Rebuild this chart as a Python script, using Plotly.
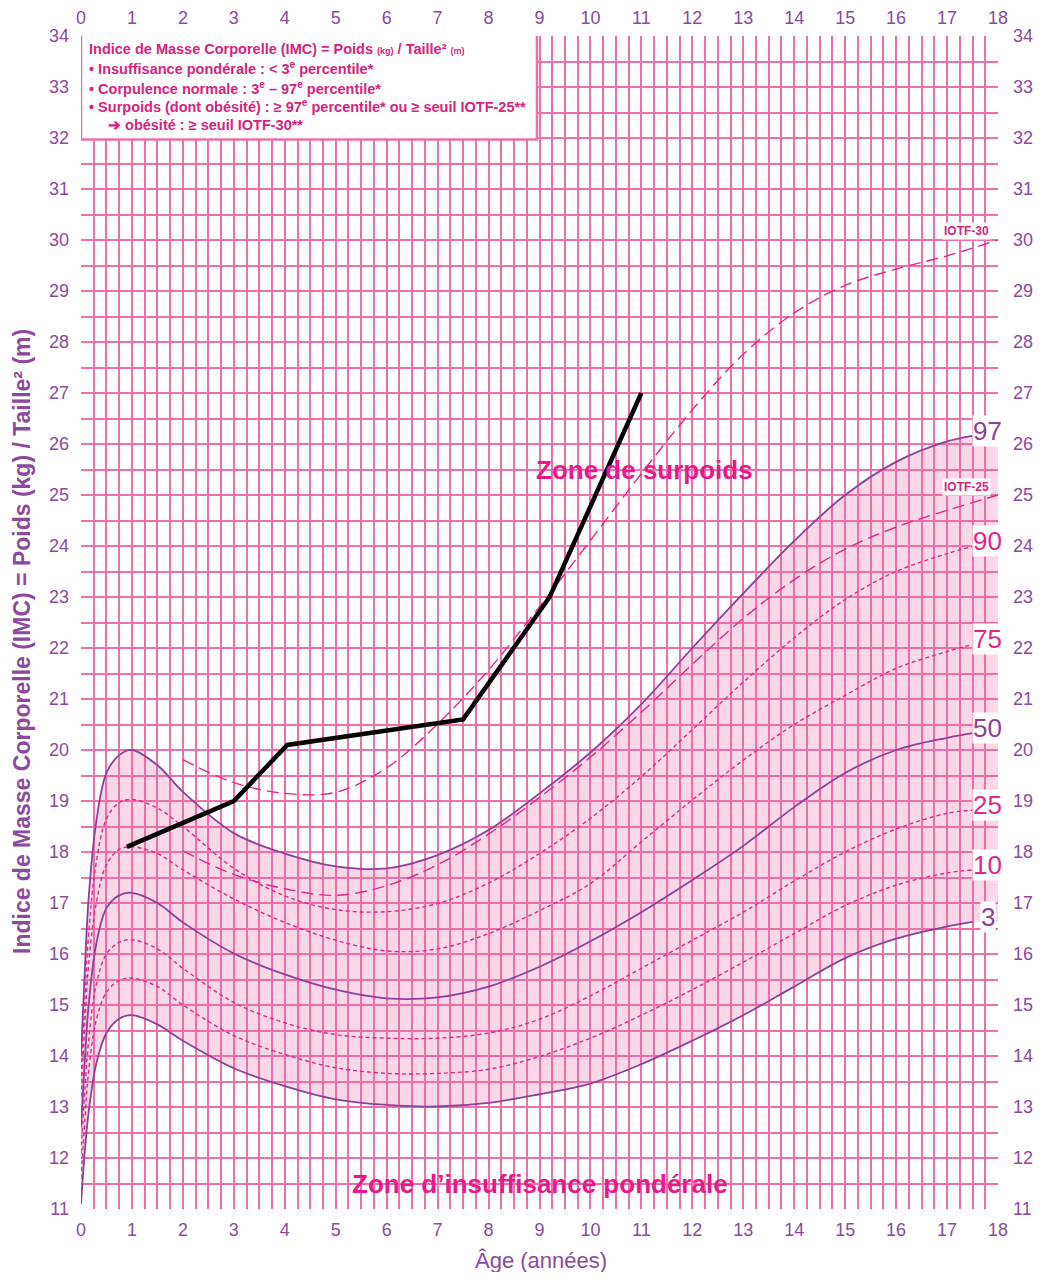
import plotly.graph_objects as go

# ---------------- data ----------------
AGES = [0, 0.08, 0.15, 0.3, 0.5, 0.75, 1, 1.5, 2, 3, 4, 5, 6, 7, 8, 9, 10, 11, 12, 13, 14, 15, 16, 17, 17.5]
P97 = [14.0, 15.8, 17.1, 18.6, 19.55, 19.9, 20.0, 19.7, 19.18, 18.37, 17.97, 17.72, 17.68, 17.94, 18.43, 19.15, 19.95, 20.9, 22.0, 23.07, 24.1, 25.0, 25.65, 26.05, 26.16]
P90 = [13.6, 15.2, 16.4, 17.8, 18.65, 18.97, 19.03, 18.86, 18.5, 17.68, 17.14, 16.87, 16.83, 16.99, 17.39, 17.97, 18.66, 19.48, 20.4, 21.33, 22.2, 22.95, 23.5, 23.85, 23.99]
P75 = [13.2, 14.7, 15.8, 17.0, 17.75, 18.05, 18.1, 17.97, 17.65, 17.08, 16.62, 16.27, 16.06, 16.1, 16.4, 16.85, 17.38, 18.2, 19.02, 19.8, 20.5, 21.07, 21.6, 21.93, 22.07]
P50 = [12.6, 14.0, 15.0, 16.2, 16.9, 17.15, 17.2, 17.0, 16.62, 16.01, 15.6, 15.3, 15.13, 15.15, 15.36, 15.75, 16.25, 16.82, 17.45, 18.12, 18.88, 19.55, 20.0, 20.24, 20.33]
P25 = [12.1, 13.4, 14.3, 15.4, 16.0, 16.23, 16.28, 16.1, 15.72, 15.05, 14.65, 14.42, 14.35, 14.35, 14.45, 14.72, 15.18, 15.72, 16.27, 16.82, 17.43, 18.0, 18.45, 18.76, 18.82]
P10 = [11.6, 12.8, 13.7, 14.7, 15.25, 15.48, 15.53, 15.36, 15.0, 14.4, 14.03, 13.77, 13.66, 13.66, 13.74, 13.99, 14.35, 14.8, 15.3, 15.84, 16.4, 16.95, 17.35, 17.59, 17.65]
P3 = [11.1, 12.2, 12.9, 13.85, 14.45, 14.73, 14.8, 14.62, 14.3, 13.76, 13.41, 13.15, 13.04, 13.01, 13.08, 13.25, 13.46, 13.84, 14.3, 14.8, 15.36, 15.92, 16.3, 16.54, 16.63]

IOTF_AGES = [2, 3, 4, 5, 6, 7, 8, 9, 10, 11, 12, 13, 14, 15, 16, 17, 18]
IOTF25 = [18.02, 17.56, 17.28, 17.15, 17.34, 17.75, 18.35, 19.07, 19.86, 20.74, 21.68, 22.58, 23.34, 23.94, 24.37, 24.70, 25.0]
IOTF30 = [19.81, 19.36, 19.15, 19.17, 19.65, 20.51, 21.57, 22.81, 24.11, 25.42, 26.67, 27.76, 28.57, 29.11, 29.43, 29.69, 30.0]

PAT_AGE = [0.9, 3.0, 4.05, 7.5, 9.2, 11.0]
PAT_BMI = [18.1, 19.0, 20.1, 20.6, 23.0, 27.0]

X_TICKS = list(range(0, 19))
Y_TICKS = list(range(11, 35))

PCT_LABELS = ["97", "90", "75", "50", "25", "10", "3"]
LEGEND_LINES = [
    "Indice de Masse Corporelle (IMC) = Poids <span style='font-size:9px'>(kg)</span> / Taille² <span style='font-size:9px'>(m)</span>",
    "• Insuffisance pondérale : &lt; 3<sup>e</sup> percentile*",
    "• Corpulence normale : 3<sup>e</sup> – 97<sup>e</sup> percentile*",
    "• Surpoids (dont obésité) : ≥ 97<sup>e</sup> percentile* ou ≥ seuil IOTF-25**",
    "➔ obésité : ≥ seuil IOTF-30**",
]

# ---------------- styles ----------------
GRID = "rgb(238,112,168)"
PURPLE = "#8e3f98"
PINK = "#e4268a"
TICK = "#8c4a9e"
TEXTPINK = "#e8198b"
LEGPINK = "#d6237f"
FONT = "Liberation Sans, Arial, sans-serif"

# page body has an 8px margin: compensate so the plot area sits at page px 81..998 / 36..1209
OFF = 8
PLOT_W, PLOT_H = 917, 1173
L, T = 81 - OFF, 36 - OFF
W, H = 1041 - 2 * OFF, 1280 - 2 * OFF
R, B = W - L - PLOT_W, H - T - PLOT_H

fig = go.Figure()

# band between 3rd and 97th percentile (extended flat to 18)
band_x = AGES + [18]
fig.add_trace(go.Scatter(x=band_x, y=P3 + [P3[-1]], mode="lines", line=dict(width=0, shape="spline"),
                         hoverinfo="skip", showlegend=False))
fig.add_trace(go.Scatter(x=band_x, y=P97 + [P97[-1]], mode="lines", line=dict(width=0, shape="spline"),
                         fill="tonexty", fillcolor="rgba(236,110,165,0.27)", hoverinfo="skip", showlegend=False))

curves = [(P97, "solid", PURPLE), (P90, "dash", PINK), (P75, "dash", PINK), (P50, "solid", PURPLE),
          (P25, "dash", PINK), (P10, "dash", PINK), (P3, "solid", PURPLE)]
for vals, style, col in curves:
    if style == "solid":
        ln = dict(color=col, width=1.8, shape="spline")
    else:
        ln = dict(color=col, width=1.4, dash="4px,3px", shape="spline")
    fig.add_trace(go.Scatter(x=AGES, y=vals, mode="lines", line=ln, showlegend=False))

for vals in (IOTF25, IOTF30):
    fig.add_trace(go.Scatter(x=IOTF_AGES, y=vals, mode="lines",
                             line=dict(color=PINK, width=1.4, dash="12px,6px", shape="spline"),
                             showlegend=False))

# patient
fig.add_trace(go.Scatter(x=PAT_AGE, y=PAT_BMI, mode="lines", line=dict(color="black", width=4.5),
                         showlegend=False))

# dummy trace for top / right axes
fig.add_trace(go.Scatter(x=[0], y=[11], xaxis="x2", yaxis="y2", mode="markers",
                         marker=dict(opacity=0), hoverinfo="skip", showlegend=False))

axis_common = dict(showline=False, zeroline=False, ticks="", automargin=False,
                   tickfont=dict(family=FONT, size=18, color=TICK))

fig.update_layout(
    width=W, height=H,
    margin=dict(l=L, r=R, t=T, b=B),
    paper_bgcolor="white", plot_bgcolor="white",
    font=dict(family=FONT),
    xaxis=dict(range=[0, 18], tickvals=X_TICKS, showgrid=True, gridcolor=GRID, gridwidth=2.4,
               minor=dict(dtick=0.25, tick0=0, showgrid=True, gridcolor=GRID, gridwidth=1.5),
               ticklabelstandoff=8, **axis_common),
    yaxis=dict(range=[11, 34], tickvals=Y_TICKS, showgrid=True, gridcolor=GRID, gridwidth=2.3,
               minor=dict(dtick=0.5, tick0=11, showgrid=True, gridcolor=GRID, gridwidth=1.7),
               ticklabelstandoff=11, **axis_common),
    xaxis2=dict(range=[0, 18], tickvals=X_TICKS, overlaying="x", side="top", showgrid=False,
                ticklabelstandoff=7, **axis_common),
    yaxis2=dict(range=[11, 34], tickvals=Y_TICKS, overlaying="y", side="right", showgrid=False,
                ticklabelstandoff=14, **axis_common),
)

# axis titles as annotations (exact placement, page px -> paper)
def px_x(p):
    return (p - 81) / PLOT_W

def px_y(p):
    return (1209 - p) / PLOT_H

fig.add_annotation(x=px_x(22), y=px_y(642), xref="paper", yref="paper", textangle=-90,
                   text="<b>Indice de Masse Corporelle (IMC) = Poids (kg) / Taille² (m)</b>",
                   showarrow=False, xanchor="center", yanchor="middle",
                   font=dict(family=FONT, size=23, color=TICK))
fig.add_annotation(x=px_x(541), y=px_y(1260), xref="paper", yref="paper",
                   text="Âge (années)", showarrow=False, xanchor="center", yanchor="middle",
                   font=dict(family=FONT, size=22, color=TICK))

# legend box
fig.add_shape(type="rect", x0=0.0, x1=8.95, y0=31.97, y1=34.06, xref="x", yref="y",
              fillcolor="white", line=dict(color=GRID, width=2.5), layer="above")
leg_y = [33.75, 33.37, 32.99, 32.62, 32.25]
leg_x = [0.12, 0.12, 0.12, 0.12, 0.5]
for txt, xv, yv in zip(LEGEND_LINES, leg_x, leg_y):
    fig.add_annotation(x=xv, y=yv, xref="x", yref="y", text="<b>" + txt + "</b>", showarrow=False,
                       xanchor="left", yanchor="middle", align="left",
                       font=dict(family=FONT, size=14.5, color=LEGPINK))

# percentile labels
end_vals = [P97[-1], P90[-1], P75[-1], P50[-1], P25[-1], P10[-1], P3[-1]]
lab_cols = [PURPLE, PINK, PINK, PURPLE, PINK, PINK, PURPLE]
for lab, v, c in zip(PCT_LABELS, end_vals, lab_cols):
    fig.add_annotation(x=17.8, y=v + 0.1, xref="x", yref="y", text=lab, showarrow=False,
                       xanchor="center", yanchor="middle", bgcolor="white", borderpad=0,
                       font=dict(family=FONT, size=26, color=c))

for lab, v in (("IOTF-30", IOTF30[-1] + 0.18), ("IOTF-25", IOTF25[-1] + 0.16)):
    fig.add_annotation(x=17.39, y=v, xref="x", yref="y", text="<b>" + lab + "</b>", showarrow=False,
                       xanchor="center", yanchor="middle", bgcolor="white", borderpad=1,
                       font=dict(family=FONT, size=12, color=LEGPINK))

fig.add_annotation(x=11.07, y=25.5, xref="x", yref="y", text="<b>Zone de surpoids</b>", showarrow=False,
                   font=dict(family=FONT, size=26, color=TEXTPINK))
fig.add_annotation(x=9.0, y=11.5, xref="x", yref="y", text="<b>Zone d’insuffisance pondérale</b>",
                   showarrow=False, font=dict(family=FONT, size=26, color=TEXTPINK))

fig.write_html("out.html")
